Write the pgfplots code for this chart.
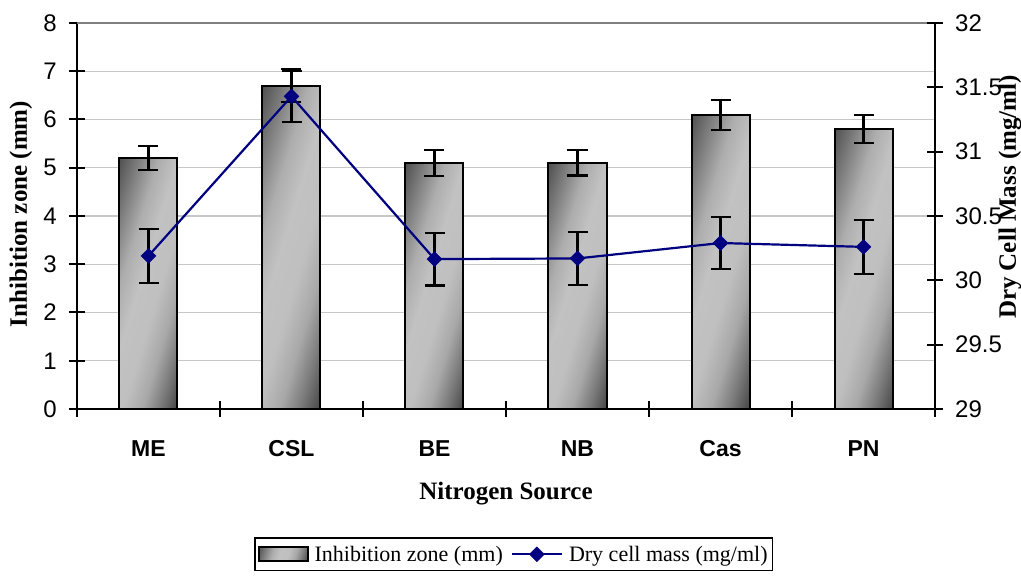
\documentclass[border=0pt]{standalone}
\usepackage{fontspec}
\setmainfont{Liberation Serif}
\newfontfamily\arial{Liberation Sans}
\usepackage{pgfplots}
\pgfplotsset{compat=1.18}
\definecolor{navyc}{HTML}{000080}
\pgfdeclarehorizontalshading{barshade}{100bp}{color(0bp)=(black!68); color(19bp)=(black!68); color(28bp)=(black!50); color(37bp)=(black!32); color(46bp)=(black!24); color(56bp)=(black!25); color(65bp)=(black!34); color(73bp)=(black!52); color(81bp)=(black!72); color(100bp)=(black!72)}
\pgfplotsset{
  linelegend/.style={legend image code/.code={\draw[mark repeat=2, mark phase=2, ##1] plot coordinates {(0pt,0pt)(25pt,0pt)(50pt,0pt)};}},
  barstyle/.style={ybar, bar shift=0pt, bar width=58pt, draw=black, line width=2pt, shade, shading=barshade, shading angle=-17,
    error bars/.cd, y dir=both, y explicit,
    error bar style={black, line width=2.2pt},
    error mark options={rotate=90, black, mark size=10pt, line width=2.2pt}},
}

\begin{document}
\begin{tikzpicture}
\useasboundingbox (-77pt,-169pt) rectangle (944pt,409pt);
\begin{axis}[
  scale only axis, width=858pt, height=386pt,
  at={(0pt,0pt)}, anchor=south west,
  xmin=0, xmax=6, ymin=0, ymax=8,
  axis x line*=bottom, axis y line*=left,
  axis line style={-, black, line width=2.2pt},
  ytick={0,...,8},
  xtick={0.5,1.5,2.5,3.5,4.5,5.5},
  xticklabels={ME,CSL,BE,NB,Cas,PN},
  major x tick style={draw=none},
  minor xtick={0,1,2,3,4,5,6},
  minor x tick style={black, line width=2pt},
  minor tick length=16pt,
  tick align=center,
  major tick length=16pt,
  y tick style={black, line width=2pt},
  ymajorgrids,
  grid style={black!22, line width=1.2pt},
  extra y ticks={8}, extra y tick labels={},
  extra y tick style={grid style={black!50, line width=1.6pt}, major tick length=0pt},
  /pgf/number format/assume math mode=true,
  yticklabel style={font=\arial\fontsize{24}{28}\selectfont, anchor=east, inner sep=0pt, xshift=-12pt},
  xticklabel style={font=\arial\bfseries\fontsize{23}{27}\selectfont, anchor=base, inner sep=0pt, yshift=-40pt},
  ylabel={\textbf{Inhibition zone (mm)}},
  ylabel style={font=\fontsize{25}{30}\selectfont, at={(axis description cs:-0.0653,0.505)}, anchor=center},
  xlabel={\textbf{Nitrogen Source}},
  xlabel style={font=\fontsize{25}{30}\selectfont, at={(axis description cs:0.5,0)}, anchor=base, inner sep=0pt, yshift=-91pt},
  clip=false,
]
\addplot[barstyle] coordinates {(0.5,5.2) +- (0,0.25)};
\addplot[barstyle] coordinates {(1.5,6.7) +- (0,0.34)};
\addplot[barstyle] coordinates {(2.5,5.1) +- (0,0.27)};
\addplot[barstyle] coordinates {(3.5,5.1) +- (0,0.26)};
\addplot[barstyle] coordinates {(4.5,6.1) +- (0,0.31)};
\addplot[barstyle] coordinates {(5.5,5.8) +- (0,0.29)};
\end{axis}
\begin{axis}[
  scale only axis, width=858pt, height=386pt,
  at={(0pt,0pt)}, anchor=south west,
  xmin=0, xmax=6, ymin=29, ymax=32,
  axis x line=none, axis y line*=right,
  axis line style={-, black, line width=2.2pt},
  ytick={29,29.5,30,30.5,31,31.5,32},
  tick align=center, major tick length=16pt,
  y tick style={black, line width=2pt},
  /pgf/number format/assume math mode=true,
  yticklabel style={font=\arial\fontsize{24}{28}\selectfont, anchor=west, inner sep=0pt, xshift=12pt},
  ylabel={\textbf{Dry Cell Mass (mg/ml)}},
  ylabel style={font=\fontsize{25}{30}\selectfont, at={(axis description cs:1.0874,0.549)}, anchor=center},
  legend style={at={(0.509,-0.332)}, anchor=north, legend columns=2, draw=black, line width=1.5pt,
    font=\fontsize{22}{26}\selectfont, inner xsep=3pt, inner ysep=6pt,
    /tikz/every odd column/.append style={column sep=4pt},
    /tikz/every even column/.append style={column sep=6pt}},
  legend cell align=left,
  clip=false,
]
\addlegendimage{legend image code/.code={\draw[black, line width=1.8pt, shade, shading=barshade, shading angle=-17] (0pt,-7pt) rectangle (49pt,7pt);}}
\addlegendentry{Inhibition zone (mm)}
\addplot[color=navyc, line width=2.2pt, mark=square*, mark size=5.3pt,
  mark options={rotate=45, fill=navyc, draw=navyc, line width=0.4pt},
  linelegend,
  error bars/.cd, y dir=both, y explicit,
  error bar style={black, line width=2.2pt},
  error mark options={rotate=90, black, mark size=10pt, line width=2.2pt}]
  coordinates {
  (0.5,30.19) +- (0,0.21)
  (1.5,31.43) +- (0,0.20)
  (2.5,30.165) +- (0,0.205)
  (3.5,30.17) +- (0,0.205)
  (4.5,30.29) +- (0,0.20)
  (5.5,30.26) +- (0,0.21)
  };
\addlegendentry{Dry cell mass (mg/ml)}
\end{axis}
\end{tikzpicture}
\end{document}
